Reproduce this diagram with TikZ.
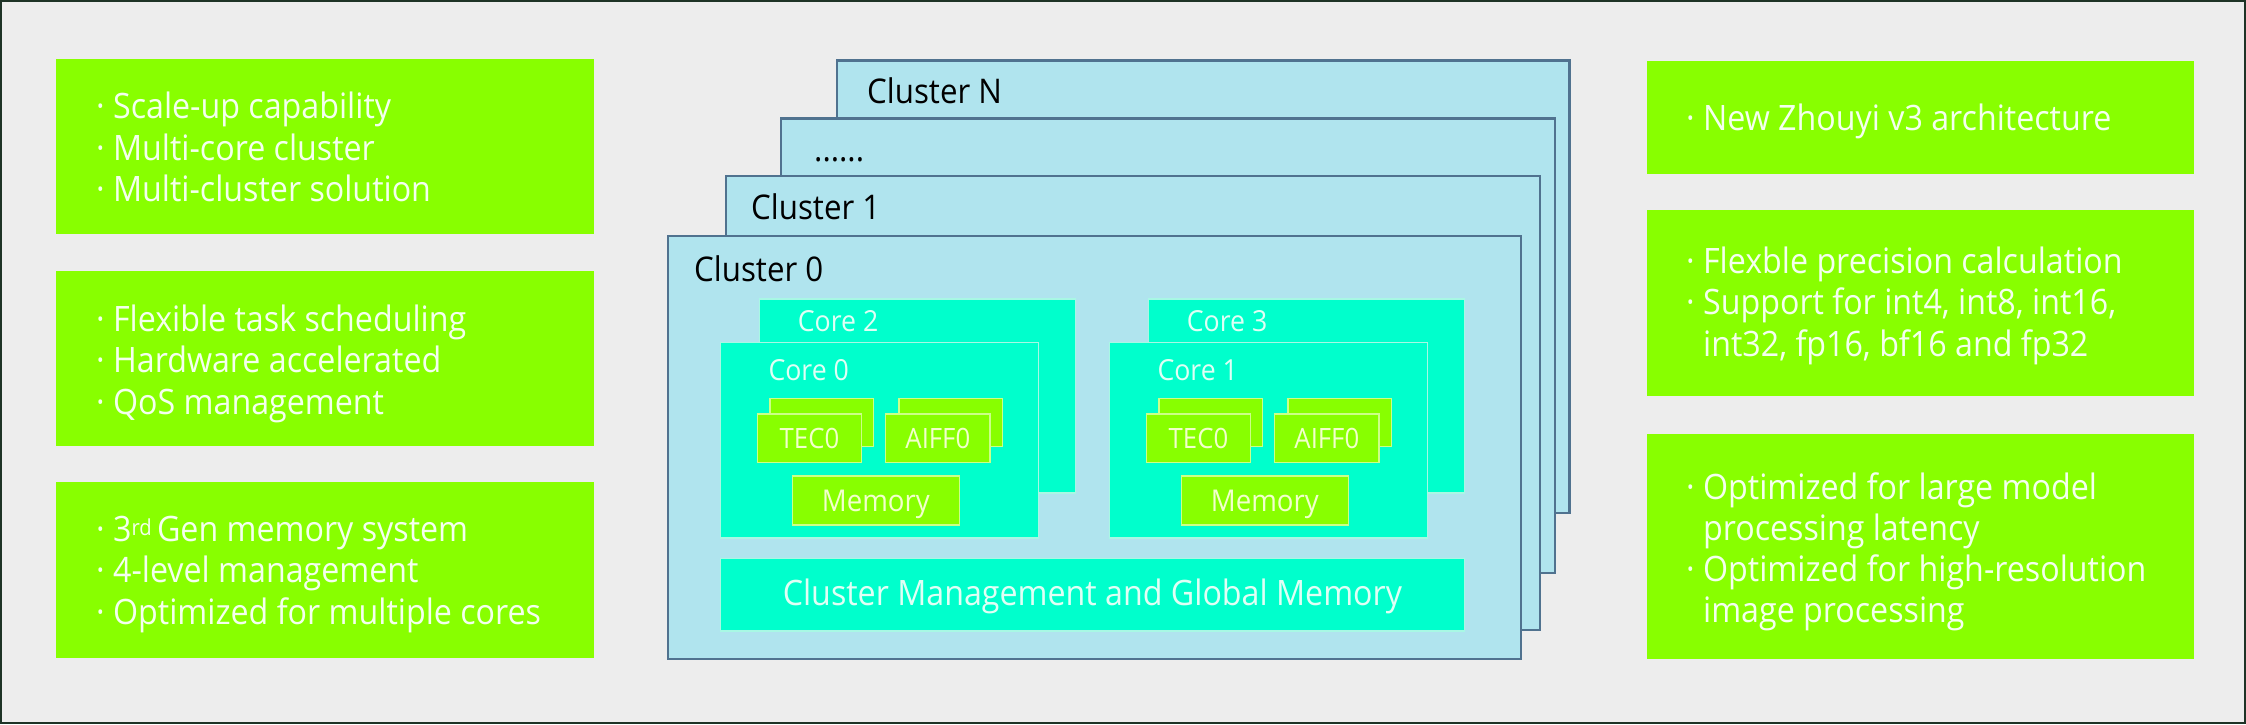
\documentclass[tikz,border=0pt]{standalone}
\usepackage{fontspec}
\setmainfont[FakeStretch=0.92]{Open Sans}
\usetikzlibrary{fit}
\definecolor{bg}{HTML}{EDEDED}
\definecolor{lime}{HTML}{88FF00}
\definecolor{clfill}{HTML}{B0E4EE}
\definecolor{cldraw}{HTML}{50728F}
\definecolor{corefill}{HTML}{00FFCC}
\definecolor{coredraw}{HTML}{A8F8E4}
\definecolor{unitdraw}{HTML}{CCFF88}
\definecolor{coretxt}{HTML}{E0FFF5}
\definecolor{unittxt}{HTML}{F2FFCC}
\definecolor{feattxt}{HTML}{F4FFEE}
\definecolor{framec}{HTML}{1E3326}
\begin{document}
\begin{tikzpicture}[x=1pt,y=-1pt,
  fitbox/.style={rectangle, inner sep=0pt, outer sep=0pt},
  feat/.style={fitbox, fill=lime},
  cluster/.style={fitbox, fill=clfill, draw=cldraw, line width=2.5pt},
  core/.style={fitbox, fill=corefill, draw=coredraw, line width=1.5pt},
  unit/.style={fitbox, fill=lime, draw=unitdraw, line width=1.5pt},
  feattext/.style={anchor=base west, inner sep=0pt, text=feattxt, font=\fontsize{35}{42}\selectfont},
  cltext/.style={anchor=base west, inner sep=0pt, text=black, font=\fontsize{34}{40}\selectfont},
  coretext/.style={anchor=base west, inner sep=0pt, text=coretxt, font=\fontsize{29}{34}\selectfont},
  unittext/.style={inner sep=0pt, text=unittxt, font=\fontsize{28}{34}\selectfont},
  memtext/.style={unittext, anchor=base, font=\fontsize{30}{34}\selectfont},
  mgmttext/.style={anchor=base, inner sep=0pt, text=coretxt, font=\fontsize{35}{40}\selectfont}]
\useasboundingbox (0,0) rectangle (2246,724);
\fill[bg] (0,0) rectangle (2246,724);
\draw[framec, line width=2pt] (1,1) rectangle (2245,723);

% left feature boxes
\node[feat, fit={(56,59) (594,234)}] (lbox1) {};
\node[feat, fit={(56,270.5) (594,446)}] (lbox2) {};
\node[feat, fit={(56,482) (594,658)}] (lbox3) {};
\node[feattext] (l1a) at (96,118.6) {· Scale-up capability};
\node[feattext] (l1b) at (96,160.2) {· Multi-core cluster};
\node[feattext] (l1c) at (96,201.8) {· Multi-cluster solution};
\node[feattext] (l2a) at (96,331) {· Flexible task scheduling};
\node[feattext] (l2b) at (96,372.5) {· Hardware accelerated};
\node[feattext] (l2c) at (96,414) {· QoS management};
\node[feattext] (l3a) at (96,541) {· 3{\fontsize{22}{24}\selectfont\raisebox{0.5ex}{rd}}\hspace{0.15em}Gen memory system};
\node[feattext] (l3b) at (96,582.5) {· 4-level management};
\node[feattext] (l3c) at (96,624) {· Optimized for multiple cores};

% right feature boxes
\node[feat, fit={(1647,60.5) (2193.5,174)}] (rbox1) {};
\node[feat, fit={(1647,210) (2193.5,396)}] (rbox2) {};
\node[feat, fit={(1647,434) (2193.5,659)}] (rbox3) {};
\node[feattext] (r1a) at (1686,130.5) {· New Zhouyi v3 architecture};
\node[feattext] (r2a) at (1686,273) {· Flexble precision calculation};
\node[feattext] (r2b) at (1686,314.5) {· Support for int4, int8, int16,};
\node[feattext] (r2c) at (1686,356) {\phantom{·\ }int32, fp16, bf16 and fp32};
\node[feattext] (r3a) at (1686,499) {· Optimized for large model};
\node[feattext] (r3b) at (1686,540) {\phantom{·\ }processing latency};
\node[feattext] (r3c) at (1686,581) {· Optimized for high-resolution};
\node[feattext] (r3d) at (1686,622) {\phantom{·\ }image processing};

% cluster stack
\node[cluster, fit={(837,60.5) (1569.5,513)}] (clN) {};
\node[cltext] (clNt) at (867,103.3) {Cluster N};
\node[cluster, fit={(781,118.5) (1555,573)}] (clD) {};
\node[cltext] (clDt) at (814,161.6) {......};
\node[cluster, fit={(726,176) (1540,630)}] (cl1) {};
\node[cltext] (cl1t) at (751,219.6) {Cluster 1};
\node[cluster, fit={(668,236) (1521,659)}] (cl0) {};
\node[cltext] (cl0t) at (694,281) {Cluster 0};

% cores
\foreach \dx/\f/\b in {0/0/2, 389/1/3} {
  \node[core, fit={(759.5+\dx,299) (1075.5+\dx,493)}] (core\b) {};
  \node[coretext] (core\b t) at (797.7+\dx,331.7) {Core \b};
  \node[core, fit={(720.5+\dx,342.5) (1038.7+\dx,538)}] (core\f) {};
  \node[coretext] (core\f t) at (768.3+\dx,380) {Core \f};
  \node[unit, fit={(770+\dx,398.3) (873.3+\dx,446.7)}] (tecb\f) {};
  \node[unit, fit={(757.3+\dx,414) (861.7+\dx,462.7)}] (tecf\f) {};
  \node[unittext] (tect\f) at (tecf\f.center) {TEC0};
  \node[unit, fit={(899+\dx,398.3) (1002.7+\dx,446.7)}] (aiffb\f) {};
  \node[unit, fit={(885.7+\dx,414) (990+\dx,462.7)}] (aifff\f) {};
  \node[unittext] (aifft\f) at (aifff\f.center) {AIFF0};
  \node[unit, fit={(792.3+\dx,476) (959.3+\dx,525)}] (mem\f) {};
  \node[memtext] (memt\f) at (875.8+\dx,511) {Memory};
}

% cluster management
\node[core, fit={(720.4,558.4) (1464.4,631)}] (mgmt) {};
\node[mgmttext] (mgmtt) at (1092.4,605.3) {Cluster Management and Global Memory};
\end{tikzpicture}
\end{document}
